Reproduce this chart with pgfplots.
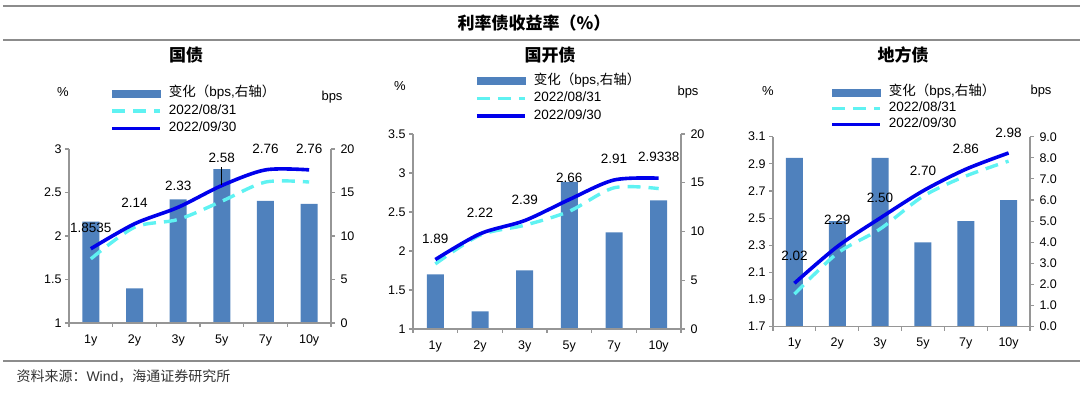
\documentclass[border=0pt]{standalone}
\usepackage{pgfplots}
\pgfplotsset{compat=1.18}
\usepackage{pgfplotstable}
\usepackage{fontspec}
\setmainfont{Liberation Sans}
\newfontfamily\cjk{Noto Sans CJK SC}
\definecolor{barc}{RGB}{79,129,189}
\definecolor{dashc}{RGB}{95,242,242}
\definecolor{solc}{RGB}{0,0,235}
\definecolor{axc}{RGB}{150,150,150}
\definecolor{framec}{RGB}{140,140,140}

% Panel 1: 国债
\pgfplotstableread{
x bar old new lab off
0 11.65 1.737 1.8535 1.8535 21
1 3.97 2.10 2.14 2.14 21
2 14.2 2.19 2.33 2.33 21
3 17.7 2.40 2.58 2.58 28
4 14.05 2.62 2.76 2.76 21
5 13.7 2.62 2.76 2.76 21
}\gz
% Panel 2: 国开债
\pgfplotstableread{
x bar old new lab off
0 5.6 1.834 1.89 1.89 21
1 1.8 2.202 2.22 2.22 21
2 6.0 2.33 2.39 2.39 21
3 15.1 2.51 2.66 2.66 22
4 9.9 2.81 2.91 2.91 21
5 13.2 2.80 2.9338 2.9338 21
}\gk
% Panel 3: 地方债
\pgfplotstableread{
x bar old new lab off
0 8 1.94 2.02 2.02 27
1 5 2.24 2.29 2.29 27
2 8 2.42 2.50 2.50 20
3 4 2.66 2.70 2.70 20
4 5 2.81 2.86 2.86 20
5 6 2.92 2.98 2.98 20
}\df

\pgfplotsset{
  base/.style={scale only axis, anchor=south west,
    xmin=-0.5, xmax=5.5,
    xtick={-0.5,0.5,1.5,2.5,3.5,4.5,5.5}, x tick label as interval,
    xticklabels={1y,2y,3y,5y,7y,10y},
    tick align=outside, major tick length=4pt,
    axis line style={axc, line width=1.1pt}, tick style={axc, line width=1.1pt},
    tick label style={font=\fontsize{12.5}{14}\selectfont, text=black},
    xticklabel style={yshift=-4pt},
    /pgf/number format/assume math mode=true,
    clip=false},
  baraxis/.style={base, axis y line*=right, axis x line=none,
    ymin=0, ybar, bar width=17pt,
    yticklabel style={xshift=2pt}},
  lineaxis/.style={base, axis y line*=left, axis x line*=bottom,
    legend cell align=left,
    legend style={draw=none, fill=none, inner sep=0pt, anchor=north west,
      font=\fontsize{13.5}{15}\selectfont, row sep=5pt,
      nodes={inner sep=0pt, text height=9.5pt, text depth=3pt},
      /tikz/every odd column/.append style={column sep=7pt}},
    legend image code/.code={\draw[##1] (0pt,0pt) -- (48pt,0pt);}},
  barlegend/.style={legend image code/.code={\fill[barc] (0pt,-3.5pt) rectangle (48pt,3.5pt);}},
  dashline/.style={dashc, line width=3.4pt, dash pattern=on 13pt off 8pt, smooth},
  solline/.style={solc, line width=3.6pt, smooth},
  labs/.style={draw=none, mark=none, forget plot, point meta=explicit symbolic,
    nodes near coords,
    visualization depends on={\thisrow{off} \as \myoff},
    every node near coord/.append style={anchor=center, yshift=\myoff pt,
      font=\fontsize{13.5}{15}\selectfont, text=black}}
}

\begin{document}
\begin{tikzpicture}
\useasboundingbox (0,0) rectangle (1080pt,395pt);

% frame lines
\draw[framec, line width=1.6pt] (3pt,389pt) -- (1080pt,389pt);
\draw[framec, line width=1.6pt] (3pt,355pt) -- (1080pt,355pt);
\draw[framec, line width=1.6pt] (3pt,34pt) -- (1080pt,34pt);
\node[font=\cjk\bfseries\fontsize{17}{19}\selectfont] at (534pt,372pt) {利率债收益率（\%）};
\node[anchor=west, font=\fontsize{14}{16}\selectfont, text=black!80] at (13pt,19pt) {{\cjk 资料来源：}Wind{\cjk ，海通证券研究所}};

% ===== Panel 1 =====
\node[font=\cjk\bfseries\fontsize{17}{19}\selectfont] at (186pt,340pt) {国债};
\node[font=\fontsize{13}{15}\selectfont] at (63pt,303pt) {\%};
\node[font=\fontsize{13}{15}\selectfont] at (332pt,298pt) {bps};
\begin{axis}[baraxis, at={(69pt,72pt)}, width=262pt, height=174pt,
  ymax=20, ytick={0,5,10,15,20}]
\addplot[fill=barc, draw=none] table[x=x,y=bar]{\gz};
\end{axis}
\begin{axis}[lineaxis, at={(69pt,72pt)}, width=262pt, height=174pt,
  ymin=1, ymax=3, ytick={1,1.5,2,2.5,3},
  legend style={at={(0.1565,1.355)}}]
\addlegendimage{barlegend}
\addlegendentry{{\cjk 变化（}bps,{\cjk 右轴）}}
\addplot[dashline] table[x=x,y=old]{\gz};
\addlegendentry{2022/08/31}
\addplot[solline] table[x=x,y=new]{\gz};
\addlegendentry{2022/09/30}
\draw[black, line width=0.9pt] (axis cs:3,2.79) -- (axis cs:3,2.59);
\addplot[labs] table[x=x,y=new,meta=lab]{\gz};
\end{axis}

% ===== Panel 2 =====
\node[font=\cjk\bfseries\fontsize{17}{19}\selectfont] at (550pt,340pt) {国开债};
\node[font=\fontsize{13}{15}\selectfont] at (400pt,309pt) {\%};
\node[font=\fontsize{13}{15}\selectfont] at (688pt,303pt) {bps};
\begin{axis}[baraxis, at={(413pt,66pt)}, width=268pt, height=195pt,
  ymax=20, ytick={0,5,10,15,20}]
\addplot[fill=barc, draw=none] table[x=x,y=bar]{\gk};
\end{axis}
\begin{axis}[lineaxis, at={(413pt,66pt)}, width=268pt, height=195pt,
  ymin=1, ymax=3.5, ytick={1,1.5,2,2.5,3,3.5},
  legend style={at={(0.2313,1.306)}}]
\addlegendimage{barlegend}
\addlegendentry{{\cjk 变化（}bps,{\cjk 右轴）}}
\addplot[dashline] table[x=x,y=old]{\gk};
\addlegendentry{2022/08/31}
\addplot[solline] table[x=x,y=new]{\gk};
\addlegendentry{2022/09/30}
\addplot[labs] table[x=x,y=new,meta=lab]{\gk};
\end{axis}

% ===== Panel 3 =====
\node[font=\cjk\bfseries\fontsize{17}{19}\selectfont] at (903pt,340pt) {地方债};
\node[font=\fontsize{13}{15}\selectfont] at (768pt,304pt) {\%};
\node[font=\fontsize{13}{15}\selectfont] at (1041pt,304pt) {bps};
\begin{axis}[baraxis, at={(773pt,68.3pt)}, width=257pt, height=190pt,
  ymax=9, ytick={0,1,2,3,4,5,6,7,8,9},
  yticklabel style={/pgf/number format/.cd, fixed, fixed zerofill, precision=1}]
\addplot[fill=barc, draw=none] table[x=x,y=bar]{\df};
\end{axis}
\begin{axis}[lineaxis, at={(773pt,68.3pt)}, width=257pt, height=190pt,
  ymin=1.7, ymax=3.1, ytick={1.7,1.9,2.1,2.3,2.5,2.7,2.9,3.1},
  yticklabel style={/pgf/number format/.cd, fixed, fixed zerofill, precision=1},
  legend style={at={(0.2218,1.266)}, row sep=3.5pt}]
\addlegendimage{barlegend}
\addlegendentry{{\cjk 变化（}bps,{\cjk 右轴）}}
\addplot[dashline] table[x=x,y=old]{\df};
\addlegendentry{2022/08/31}
\addplot[solline] table[x=x,y=new]{\df};
\addlegendentry{2022/09/30}
\addplot[labs] table[x=x,y=new,meta=lab]{\df};
\end{axis}
\end{tikzpicture}
\end{document}
